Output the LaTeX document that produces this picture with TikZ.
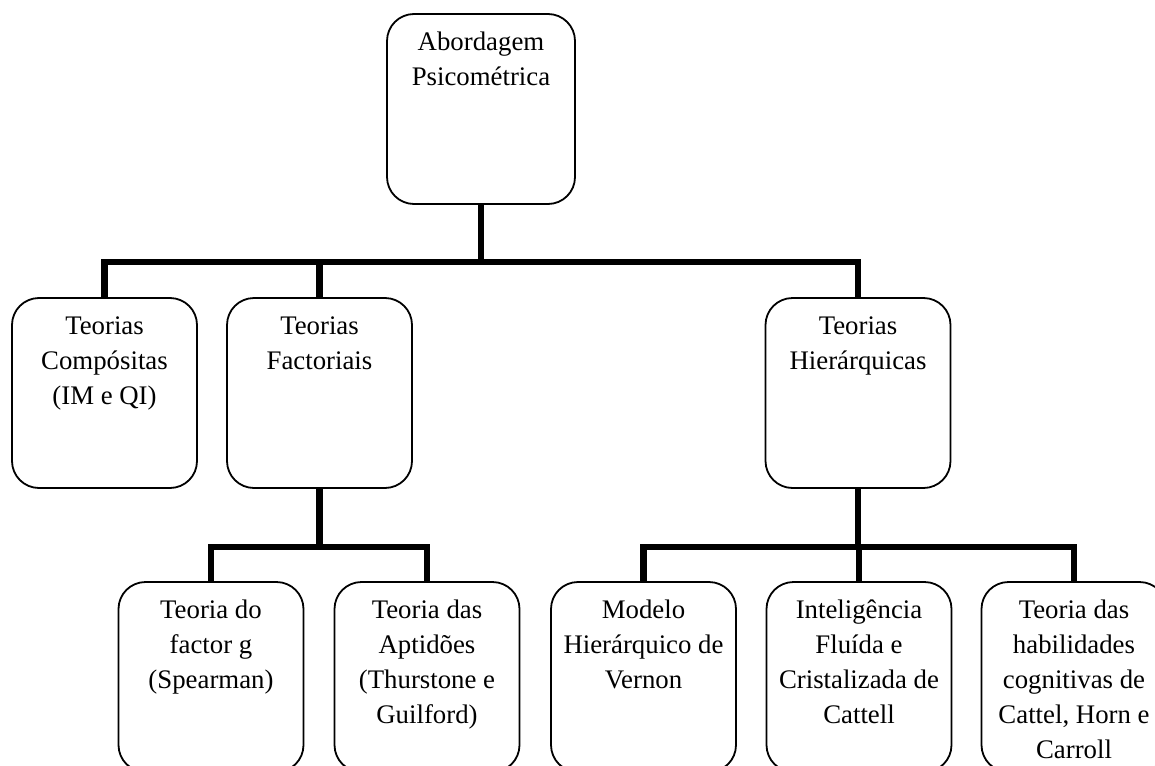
\documentclass[tikz,border=0pt]{standalone}
\usepackage{fontspec}
\setmainfont{Liberation Serif}
\begin{document}
\begin{tikzpicture}[x=1pt,y=-1pt,
  box/.style={draw,line width=1.8pt,rounded corners=27pt,minimum width=185pt,minimum height=190pt,inner sep=0pt,outer sep=0pt},
  lbl/.style={anchor=north,inner sep=0pt,align=center,font=\fontsize{26.8}{35}\selectfont},
  conn/.style={line width=6.5pt,line join=miter}]
\useasboundingbox (0,0) rectangle (1155,765);
\clip (0,0) rectangle (1155,765);
% boxes
\node[box,minimum width=188pt] (top) at (481,109) {};
\node[box] (b1) at (104.5,393) {};
\node[box] (b2) at (319.5,393) {};
\node[box] (b3) at (858,393) {};
\node[box] (b4) at (211,677) {};
\node[box] (b5) at (427,677) {};
\node[box] (b6) at (643.5,677) {};
\node[box] (b7) at (859,677) {};
\node[box] (b8) at (1074,677) {};
% labels
\newcommand{\fl}{\rule{0pt}{18pt}}
\node[lbl] (ttop) at (481,32) {\fl Abordagem\\Psicométrica};
\node[lbl] (t1) at (104.5,316) {\fl Teorias\\Compósitas\\(IM e QI)};
\node[lbl] (t2) at (319.5,316) {\fl Teorias\\Factoriais};
\node[lbl] (t3) at (858,316) {\fl Teorias\\Hierárquicas};
\node[lbl] (t4) at (211,600) {\fl Teoria do\\factor g\\(Spearman)};
\node[lbl] (t5) at (427,600) {\fl Teoria das\\Aptidões\\(Thurstone e\\Guilford)};
\node[lbl] (t6) at (643.5,600) {\fl Modelo\\Hierárquico de\\Vernon};
\node[lbl] (t7) at (859,600) {\fl Inteligência\\Fluída e\\Cristalizada de\\Cattell};
\node[lbl] (t8) at (1074,600) {\fl Teoria das\\habilidades\\cognitivas de\\Cattel, Horn e\\Carroll};
% connectors
\coordinate (bus1) at (0,262);
\coordinate (bus2) at (0,547);
\draw[conn] (top.south) -- (top.south |- bus1);
\draw[conn] (b1.north) -- (b1.north |- bus1) -- (b3.north |- bus1) -- (b3.north);
\draw[conn] (b2.north) -- (b2.north |- bus1);
\draw[conn] (b2.south) -- (b2.south |- bus2);
\draw[conn] (b4.north) -- (b4.north |- bus2) -- (b5.north |- bus2) -- (b5.north);
\draw[conn] (b3.south) -- (b3.south |- bus2);
\draw[conn] (b6.north) -- (b6.north |- bus2) -- (b8.north |- bus2) -- (b8.north);
\draw[conn] (b7.north) -- (b7.north |- bus2);
\end{tikzpicture}
\end{document}
